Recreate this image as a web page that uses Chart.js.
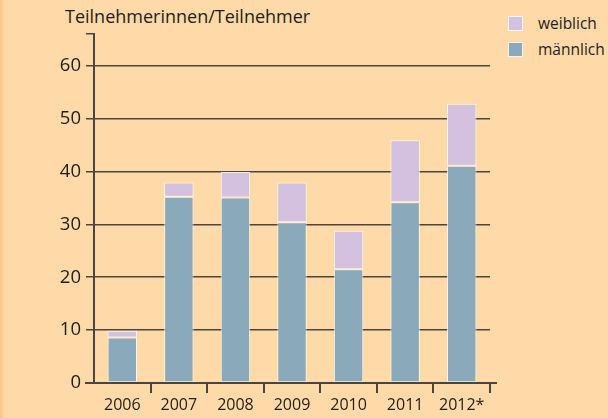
<!DOCTYPE html>
<html lang="de">
<head>
<meta charset="utf-8">
<script src="https://cdn.jsdelivr.net/npm/chart.js@4/dist/chart.umd.min.js"></script>
<style>
  html, body { margin: 0; padding: 0; }
  .chart-box {
    position: relative;
    width: 608px;
    height: 418px;
    background: linear-gradient(to right, #fbc47f 0, #fdd2a0 3px, #fedaa8 5px);
    font-family: "Open Sans", "DejaVu Sans", sans-serif;
    color: #1f1d1b;
  }
  .chart-title {
    position: absolute;
    left: 65px;
    top: 4px;
    font-size: 18px;
    white-space: nowrap;
  }
  .legend {
    position: absolute;
    left: 508px;
    top: 10px;
    font-size: 15.5px;
  }
  .legend div { display: flex; align-items: center; height: 26px; }
  .legend span.sw {
    display: inline-block;
    width: 13px;
    height: 13px;
    border: 1px solid rgba(255,255,255,0.85);
    margin-right: 15px;
  }
  canvas { position: absolute; left: 0; top: 0; }
</style>
</head>
<body>
<div class="chart-box">
  <div class="chart-title">Teilnehmerinnen/Teilnehmer</div>
  <div class="legend">
    <div><span class="sw" style="background:#d3c1df"></span>weiblich</div>
    <div><span class="sw" style="background:#8aaabb"></span>männlich</div>
  </div>
  <canvas id="teilnehmerChart" width="608" height="418"></canvas>
</div>
<script>
const jahre = ['2006', '2007', '2008', '2009', '2010', '2011', '2012*'];
const maennlich = [8.6, 35.2, 35.1, 30.4, 21.5, 34.2, 41.1];
const weiblich = [1.3, 2.7, 4.8, 7.5, 7.3, 11.7, 11.7];
const yTicks = [0, 10, 20, 30, 40, 50, 60];
const yAxisTop = 66;

const axisColor = '#4a4540';
const textColor = '#1f1d1b';

// x-Achse etwas über den Plotbereich hinaus verlängern
const axisLine = {
  id: 'axisLine',
  afterDatasetsDraw(chart) {
    const { ctx, chartArea, scales } = chart;
    const y0 = scales.y.getPixelForValue(0);
    ctx.save();
    ctx.strokeStyle = axisColor;
    ctx.lineWidth = 2;
    ctx.beginPath();
    ctx.moveTo(chartArea.left - 9, y0);
    ctx.lineTo(chartArea.right + 7, y0);
    ctx.stroke();
    ctx.restore();
  }
};

const ctx = document.getElementById('teilnehmerChart').getContext('2d');
const teilnehmerChart = new Chart(ctx, {
  type: 'bar',
  data: {
    labels: jahre,
    datasets: [{
      label: 'männlich',
      data: maennlich,
      backgroundColor: '#8aaabb',
      borderColor: 'rgba(255,255,255,0.75)',
      borderWidth: 1,
      borderSkipped: false
    }, {
      label: 'weiblich',
      data: weiblich,
      backgroundColor: '#d3c1df',
      borderColor: 'rgba(255,255,255,0.85)',
      borderWidth: 1,
      borderSkipped: false
    }]
  },
  options: {
    responsive: false,
    animation: false,
    layout: { padding: { top: 34, right: 118, left: 0, bottom: 0 } },
    datasets: { bar: { barPercentage: 0.52, categoryPercentage: 1 } },
    plugins: {
      legend: { display: false },
      tooltip: { enabled: false }
    },
    scales: {
      x: {
        stacked: true,
        afterFit: (scale) => { scale.height = 35; },
        border: { display: false },
        grid: {
          offset: true,
          drawOnChartArea: false,
          drawTicks: true,
          tickLength: 10,
          lineWidth: 2,
          tickColor: (c) => c.index === 0 ? 'rgba(0,0,0,0)' : axisColor
        },
        ticks: {
          padding: 3,
          color: textColor,
          font: { family: '"Open Sans", sans-serif', size: 16 }
        }
      },
      y: {
        stacked: true,
        min: 0,
        max: yAxisTop,
        afterFit: (scale) => { scale.width = 94; },
        afterBuildTicks: (scale) => {
          scale.ticks = yTicks.concat([yAxisTop]).map(v => ({ value: v }));
        },
        border: { display: true, color: axisColor, width: 2 },
        grid: {
          lineWidth: 1.5,
          tickLength: 8,
          color: (c) => (c.tick && c.tick.value > 0 && c.tick.value <= 60) ? axisColor : 'rgba(0,0,0,0)',
          tickColor: axisColor
        },
        ticks: {
          padding: 5,
          color: textColor,
          font: { family: '"Open Sans", sans-serif', size: 18.5 },
          callback: (v) => yTicks.includes(v) ? v : ''
        }
      }
    }
  },
  plugins: [axisLine]
});
</script>
</body>
</html>
